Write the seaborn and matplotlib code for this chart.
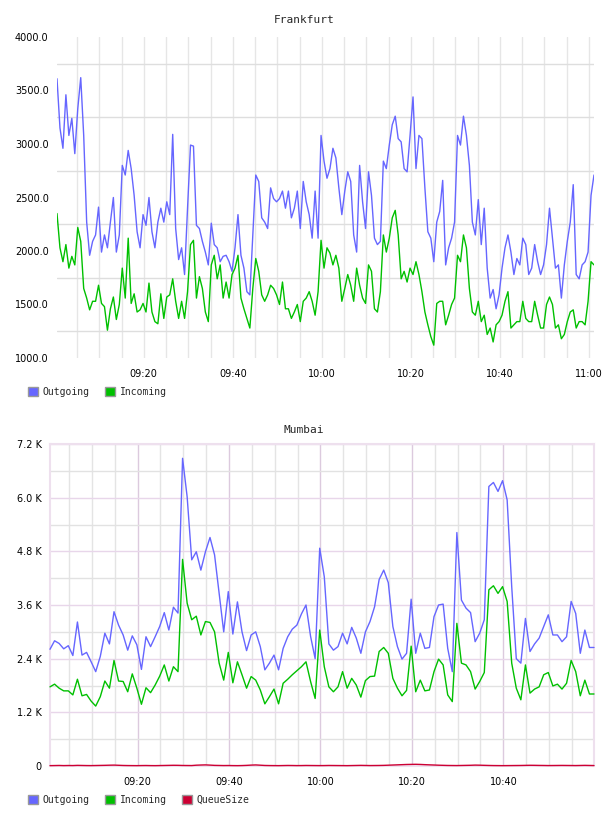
import pandas as pd
import matplotlib
matplotlib.use("Agg")
import matplotlib.pyplot as plt
import matplotlib.dates as mdates
from matplotlib.patches import Patch
from matplotlib.ticker import FixedLocator, FuncFormatter
import seaborn as sns

# Frankfurt, one sample every 40 s starting 09:00:30
fra_out = [3610, 3150, 2960, 3460, 3080, 3240, 2910, 3330, 3620, 3080, 2270, 1960, 2090, 2150, 2410, 1990,
           2150, 2030, 2270, 2500, 1990, 2150, 2800, 2710, 2940, 2770, 2520, 2180, 2030, 2340, 2240, 2500,
           2180, 2030, 2270, 2400, 2270, 2460, 2340, 3090, 2210, 1920, 2030, 1780, 2400, 2990,
           2980, 2240, 2210, 2090, 1990, 1870, 2260, 2060, 2030, 1900, 1950, 1960, 1900, 1810, 2030, 2340,
           1960, 1840, 1620, 1590, 2150, 2710, 2650, 2310, 2270, 2210, 2590, 2490, 2460, 2490, 2560, 2400,
           2560, 2310, 2400, 2560, 2210, 2650, 2460, 2340, 2120, 2560, 2120, 3080, 2840, 2680,
           2770, 2960, 2870, 2590, 2340, 2560, 2740, 2650, 2150, 1990, 2800, 2460, 2210, 2740, 2520, 2120,
           2060, 2090, 2840, 2770, 2990, 3180, 3260, 3050, 3020, 2770, 2740, 3080, 3440, 2770, 3080, 3050,
           2590, 2180, 2120, 1900, 2270, 2370, 2660, 1870, 2030, 2120, 2270, 3080, 2990,
           3260, 3080, 2800, 2270, 2150, 2480, 2060, 2400, 1840, 1560, 1640, 1460, 1590, 1840, 2030, 2150,
           1990, 1780, 1930, 1870, 2120, 2060, 1780, 1840, 2060, 1900, 1780, 1870, 2060, 2400, 2120, 1840,
           1870, 1560, 1870, 2090, 2270, 2620, 1780, 1740, 1870, 1900, 1990, 2520, 2710]
fra_in = [2350, 2030, 1900, 2060, 1840, 1950, 1870, 2220, 2090, 1650, 1560, 1450, 1530, 1530, 1680, 1510,
          1480, 1260, 1460, 1570, 1360, 1500, 1840, 1560, 2120, 1510, 1600, 1430, 1450, 1510, 1430, 1700,
          1430, 1340, 1320, 1600, 1370, 1570, 1590, 1740, 1530, 1370, 1530, 1370, 1620, 2060,
          2100, 1560, 1760, 1650, 1430, 1340, 1870, 1960, 1740, 1870, 1560, 1710, 1560, 1780, 1840, 1960,
          1560, 1460, 1370, 1280, 1650, 1930, 1810, 1590, 1530, 1590, 1680, 1650, 1590, 1500, 1710, 1460,
          1460, 1370, 1430, 1500, 1340, 1530, 1560, 1620, 1530, 1400, 1620, 2100, 1840, 2030,
          1980, 1870, 1960, 1840, 1530, 1650, 1780, 1680, 1530, 1840, 1680, 1560, 1510, 1870, 1810, 1460,
          1430, 1620, 2150, 1990, 2120, 2310, 2380, 2150, 1740, 1810, 1710, 1840, 1780, 1900, 1780, 1620,
          1430, 1310, 1200, 1120, 1510, 1530, 1530, 1310, 1400, 1500, 1560, 1960, 1900,
          2150, 2030, 1650, 1430, 1400, 1530, 1340, 1400, 1220, 1280, 1150, 1310, 1340, 1400, 1530, 1620,
          1280, 1310, 1340, 1340, 1530, 1370, 1340, 1340, 1530, 1400, 1280, 1280, 1500, 1570, 1500, 1280,
          1310, 1180, 1220, 1340, 1430, 1450, 1280, 1340, 1340, 1310, 1530, 1900, 1870]

# Mumbai, one sample per minute starting 09:00:50
mum_out = [2610, 2800, 2740, 2620, 2690, 2470, 3220, 2480, 2540, 2330, 2110, 2450, 2970, 2730, 3450, 3150,
           2930, 2590, 2910, 2710, 2160, 2890, 2670, 2890, 3120, 3430, 3040, 3550, 3420, 6880, 6020, 4610,
           4790, 4380, 4790, 5110, 4720, 3860, 3000, 3900, 2950, 3670, 3000, 2580, 2930, 3000, 2670, 2150,
           2300, 2480, 2150, 2630, 2890, 3060, 3150, 3400,
           3600, 2900, 2400, 4870, 4230, 2730, 2590, 2670, 2970, 2730, 3100, 2860, 2520, 3000, 3230, 3560,
           4170, 4380, 4100, 3120, 2670, 2390, 2520, 3730, 2520, 2970, 2630, 2650, 3340, 3600, 3620, 2630,
           2110, 5220, 3710, 3530, 3430, 2780, 2970, 3270, 6250, 6340, 6140, 6380, 5950, 4010, 2400, 2300,
           3300, 2560, 2730, 2860, 3120, 3380, 2930, 2930, 2780, 2890, 3680, 3410, 2520, 3040, 2650, 2650]
mum_in = [1770, 1830, 1740, 1680, 1680, 1590, 1940, 1570, 1600, 1450, 1340, 1550, 1900, 1740, 2360, 1900,
          1890, 1660, 2060, 1740, 1380, 1750, 1640, 1810, 2010, 2260, 1900, 2220, 2110, 4620, 3640, 3270,
          3350, 2930, 3230, 3210, 3000, 2300, 1920, 2540, 1860, 2330, 2040, 1740, 2000, 1920, 1700, 1390,
          1550, 1720, 1390, 1850, 1940, 2040, 2130, 2220,
          2330, 1890, 1510, 3040, 2220, 1770, 1660, 1770, 2110, 1740, 1960, 1810, 1540, 1910, 2000, 2010,
          2560, 2650, 2520, 1960, 1740, 1570, 1690, 2680, 1660, 1920, 1680, 1700, 2110, 2390, 2260, 1590,
          1440, 3190, 2300, 2260, 2110, 1720, 1890, 2090, 3940, 4030, 3860, 4010, 3680, 2300, 1740, 1480,
          2260, 1630, 1720, 1770, 2040, 2090, 1790, 1830, 1720, 1850, 2360, 2110, 1570, 1920, 1610, 1610]
mum_queue = [8, 10, 12, 9, 11, 10, 14, 12, 10, 9, 11, 13, 15, 18, 20, 16, 12, 10, 9, 8, 10, 11, 9, 8, 10, 12, 14, 16, 15, 12,
             11, 10, 18, 22, 25, 20, 14, 12, 10, 11, 9, 8, 10, 14, 20, 24, 18, 12, 10, 9, 8, 10, 12, 11, 9, 10, 12, 11, 10, 9,
             10, 12, 11, 10, 9, 8, 10, 12, 14, 12, 10, 11, 12, 14, 18, 22, 26, 30, 34, 36, 38, 35, 30, 26, 22, 18, 15, 12, 11, 10,
             12, 14, 16, 20, 18, 15, 12, 10, 9, 8, 9, 10, 11, 12, 14, 16, 15, 13, 12, 10, 11, 12, 13, 12, 11, 10, 12, 14, 12, 10]

fra_yticks = [1000, 1500, 2000, 2500, 3000, 3500, 4000]
mum_yticks = [0, 1200, 2400, 3600, 4800, 6000, 7200]
mum_ylabels = ["0", "1.2 K", "2.4 K", "3.6 K", "4.8 K", "6.0 K", "7.2 K"]

BLUE = "#6666ff"
GREEN = "#00c000"
RED = "#cc0033"
colors = {"Outgoing": BLUE, "Incoming": GREEN, "QueueSize": RED}

sns.set_style("white")
plt.rcParams["font.family"] = ["DejaVu Sans"]
plt.rcParams["font.size"] = 7

fra_t = pd.date_range("2024-01-01 09:00:30", periods=len(fra_out), freq="40s")
fra = pd.DataFrame({"time": fra_t, "Outgoing": fra_out, "Incoming": fra_in})
fra = fra.melt("time", var_name="series", value_name="value")

mum_t = pd.date_range("2024-01-01 09:00:50", periods=len(mum_out), freq="1min")
mum = pd.DataFrame({"time": mum_t, "Outgoing": mum_out, "Incoming": mum_in, "QueueSize": mum_queue})
mum = mum.melt("time", var_name="series", value_name="value")

fig = plt.figure(figsize=(6.08, 8.16), dpi=100)
W, H = 608, 816
ax1 = fig.add_axes([57 / W, 1 - 358 / H, (594 - 57) / W, (358 - 37) / H])
ax2 = fig.add_axes([50 / W, 1 - 766 / H, (594 - 50) / W, (766 - 444) / H])

sns.lineplot(data=fra, x="time", y="value", hue="series", palette=colors, linewidth=1.0,
             errorbar=None, legend=False, ax=ax1)
sns.lineplot(data=mum, x="time", y="value", hue="series", palette=colors, linewidth=1.0,
             errorbar=None, legend=False, ax=ax2, zorder=3, clip_on=False)

for ax, t in ((ax1, fra_t), (ax2, mum_t)):
    ax.set_xlim(t[0], t[-1])
    ax.set_xlabel("")
    ax.set_ylabel("")
    ax.xaxis.set_major_locator(mdates.MinuteLocator(byminute=[0, 20, 40]))
    ax.xaxis.set_minor_locator(mdates.MinuteLocator(byminute=range(0, 60, 5)))
    ax.xaxis.set_major_formatter(mdates.DateFormatter("%H:%M"))
    ax.tick_params(which="both", length=0, labelsize=7, colors="black")
    ax.tick_params(axis="x", pad=8)
    ax.tick_params(axis="y", pad=6)
    ax.set_axisbelow(True)

# Frankfurt: labels on the half thousands, grid lines in between
ax1.set_ylim(1000, 4000)
ax1.yaxis.set_major_locator(FixedLocator(fra_yticks))
ax1.yaxis.set_major_formatter(FuncFormatter(lambda v, p: f"{v:.1f}"))
ax1.yaxis.set_minor_locator(FixedLocator([1250, 1750, 2250, 2750, 3250, 3750]))
ax1.grid(False)
ax1.grid(True, which="minor", axis="y", color="#dedede", linewidth=1)
ax1.grid(True, which="both", axis="x", color="#e6e6e6", linewidth=1)
for s in ax1.spines.values():
    s.set_visible(False)

# Mumbai
ax2.set_ylim(0, 7200)
ax2.yaxis.set_major_locator(FixedLocator(mum_yticks))
ax2.set_yticklabels(mum_ylabels)
ax2.yaxis.set_minor_locator(FixedLocator([600, 1800, 3000, 4200, 5400, 6600]))
ax2.grid(False)
ax2.grid(True, which="major", axis="y", color="#e8d6ea", linewidth=1)
ax2.grid(True, which="minor", axis="y", color="#e2e2e2", linewidth=1)
ax2.grid(True, which="major", axis="x", color="#dccade", linewidth=1)
ax2.grid(True, which="minor", axis="x", color="#e4e4e4", linewidth=1)
for s in ax2.spines.values():
    s.set_color("#eee0ee")
    s.set_linewidth(1.5)
    s.set_zorder(1)

mono = {"family": "DejaVu Sans Mono", "size": 8}
fig.text(0.5, 1 - 20 / H, "Frankfurt", ha="center", va="center", fontdict=mono)
fig.text(0.5, 1 - 430 / H, "Mumbai", ha="center", va="center", fontdict=mono)

def legend(names, y):
    handles = [Patch(facecolor=colors[n], edgecolor="#999999", linewidth=1, label=n) for n in names]
    fig.legend(handles=handles, loc="center left", bbox_to_anchor=(23 / W, 1 - y / H), ncol=len(names),
               frameon=False, handlelength=1.0, handleheight=1.0, handletextpad=0.5,
               columnspacing=1.6, borderpad=0, prop={"family": "DejaVu Sans Mono", "size": 7})

legend(["Outgoing", "Incoming"], 392)
legend(["Outgoing", "Incoming", "QueueSize"], 800)

fig.savefig("out.png", dpi=100)
